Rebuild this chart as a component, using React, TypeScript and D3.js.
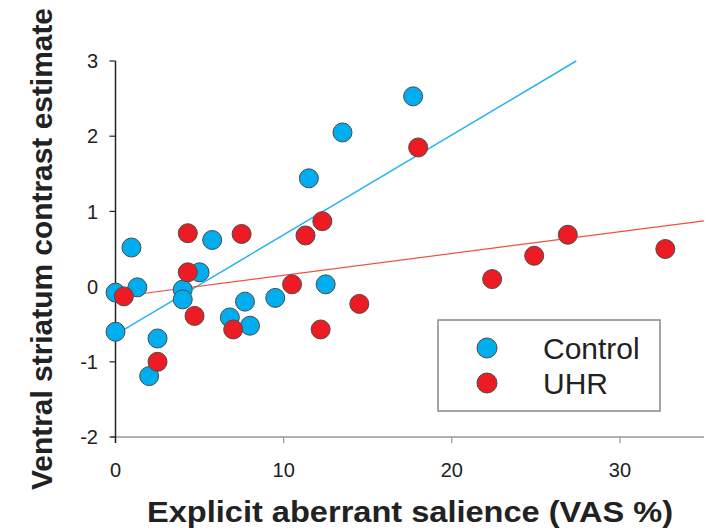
import React, { useRef, useEffect } from 'react';
import * as d3 from 'd3';

// Control group: [VAS %, contrast estimate]
const controlPoints: [number, number][] = [
  [0, -0.08], [0.95, 0.52], [1.3, -0.01], [0, -0.6], [2.5, -0.69],
  [2.0, -1.19], [4.0, -0.04], [4.0, -0.17], [5.0, 0.19], [5.75, 0.62],
  [6.8, -0.41], [7.7, -0.2], [8.0, -0.52], [9.5, -0.15], [12.5, 0.03],
  [11.5, 1.44], [13.5, 2.05], [17.7, 2.53]
];

// UHR group
const uhrPoints: [number, number][] = [
  [0.5, -0.13], [2.5, -1.0], [4.3, 0.71], [4.3, 0.19], [4.7, -0.39],
  [7.5, 0.7], [7.0, -0.57], [10.5, 0.03], [11.3, 0.68], [12.3, 0.87],
  [12.2, -0.57], [14.5, -0.23], [18.0, 1.85], [22.4, 0.1], [24.9, 0.41],
  [26.9, 0.69], [32.7, 0.5]
];

// fitted lines (end points)
const controlFit: [number, number][] = [[0, -0.64], [27.4, 3.0]];
const uhrFit: [number, number][] = [[0.5, -0.125], [35, 0.875]];

const xTicks = [0, 10, 20, 30];
const yTicks = [-2, -1, 0, 1, 2, 3];
const seriesNames = ['Control', 'UHR'];

const BLUE = '#00aeef';
const RED = '#ed1c24';
const FONT = '"Liberation Sans", Arial, sans-serif';

const App = () => {
  const ref = useRef<SVGSVGElement>(null);

  useEffect(() => {
    document.body.style.margin = '0';
    const svg = d3.select(ref.current);
    svg.selectAll('*').remove();

    const x = d3.scaleLinear().domain([0, 35]).range([115.5, 704]);
    const y = d3.scaleLinear().domain([-2, 3]).range([437, 61]);

    // x axis (grey)
    const xg = svg.append('g');
    xg.append('line')
      .attr('x1', 111).attr('x2', x(35))
      .attr('y1', y(-2)).attr('y2', y(-2))
      .attr('stroke', '#999').attr('stroke-width', 1.5);
    xg.selectAll('line.tick').data(xTicks).enter().append('line')
      .attr('class', 'tick')
      .attr('x1', d => x(d)).attr('x2', d => x(d))
      .attr('y1', y(-2)).attr('y2', y(-2) + 6)
      .attr('stroke', '#999').attr('stroke-width', 1.2);
    xg.selectAll('text').data(xTicks).enter().append('text')
      .attr('x', d => x(d)).attr('y', 477)
      .attr('text-anchor', 'middle')
      .attr('font-family', FONT).attr('font-size', 20).attr('fill', '#222')
      .text(d => d);

    // y axis (black)
    const yg = svg.append('g');
    yg.append('line')
      .attr('x1', x(0)).attr('x2', x(0))
      .attr('y1', y(3)).attr('y2', y(-2) + 6)
      .attr('stroke', '#222').attr('stroke-width', 1.5);
    yg.selectAll('line.tick').data(yTicks).enter().append('line')
      .attr('class', 'tick')
      .attr('x1', x(0) - 6).attr('x2', x(0))
      .attr('y1', d => y(d)).attr('y2', d => y(d))
      .attr('stroke', '#222').attr('stroke-width', 1.2);
    yg.selectAll('text').data(yTicks).enter().append('text')
      .attr('x', 98).attr('y', d => y(d))
      .attr('dy', '0.36em')
      .attr('text-anchor', 'end')
      .attr('font-family', FONT).attr('font-size', 20).attr('fill', '#222')
      .text(d => d);

    // axis titles
    svg.append('text')
      .attr('x', 147).attr('y', 522)
      .attr('textLength', 526).attr('lengthAdjust', 'spacingAndGlyphs')
      .attr('font-family', FONT).attr('font-size', 29).attr('font-weight', 'bold')
      .attr('fill', '#222')
      .text('Explicit aberrant salience (VAS %)');
    svg.append('text')
      .attr('transform', 'translate(52,249) rotate(-90)')
      .attr('text-anchor', 'middle')
      .attr('textLength', 482).attr('lengthAdjust', 'spacingAndGlyphs')
      .attr('font-family', FONT).attr('font-size', 30).attr('font-weight', 'bold')
      .attr('fill', '#222')
      .text('Ventral striatum contrast estimate');

    // regression lines
    const line = d3.line<[number, number]>().x(d => x(d[0])).y(d => y(d[1]));
    svg.append('path').attr('d', line(controlFit))
      .attr('fill', 'none').attr('stroke', '#27b4ee').attr('stroke-width', 1.5);
    svg.append('path').attr('d', line(uhrFit))
      .attr('fill', 'none').attr('stroke', '#f0503f').attr('stroke-width', 1.2);

    // points
    svg.append('g').selectAll('circle').data(controlPoints).enter().append('circle')
      .attr('cx', d => x(d[0])).attr('cy', d => y(d[1])).attr('r', 9.5)
      .attr('fill', BLUE).attr('stroke', '#4a4a4a').attr('stroke-width', 1);
    svg.append('g').selectAll('circle').data(uhrPoints).enter().append('circle')
      .attr('cx', d => x(d[0])).attr('cy', d => y(d[1])).attr('r', 9.5)
      .attr('fill', RED).attr('stroke', '#4a4a4a').attr('stroke-width', 1);

    // legend
    const lg = svg.append('g');
    lg.append('rect')
      .attr('x', 438).attr('y', 320).attr('width', 222).attr('height', 91)
      .attr('fill', '#fff').attr('stroke', '#888').attr('stroke-width', 1.5);
    const colors = [BLUE, RED];
    const rowY = [348, 383];
    seriesNames.forEach((name, i) => {
      lg.append('circle')
        .attr('cx', 487).attr('cy', rowY[i]).attr('r', 10)
        .attr('fill', colors[i]).attr('stroke', '#4a4a4a').attr('stroke-width', 1);
      lg.append('text')
        .attr('x', 543).attr('y', rowY[i] + 10.5)
        .attr('font-family', FONT).attr('font-size', 30).attr('fill', '#222')
        .text(name);
    });
  }, []);

  return <svg ref={ref} width={715} height={530} style={{ display: 'block' }}></svg>;
};

export default App;
